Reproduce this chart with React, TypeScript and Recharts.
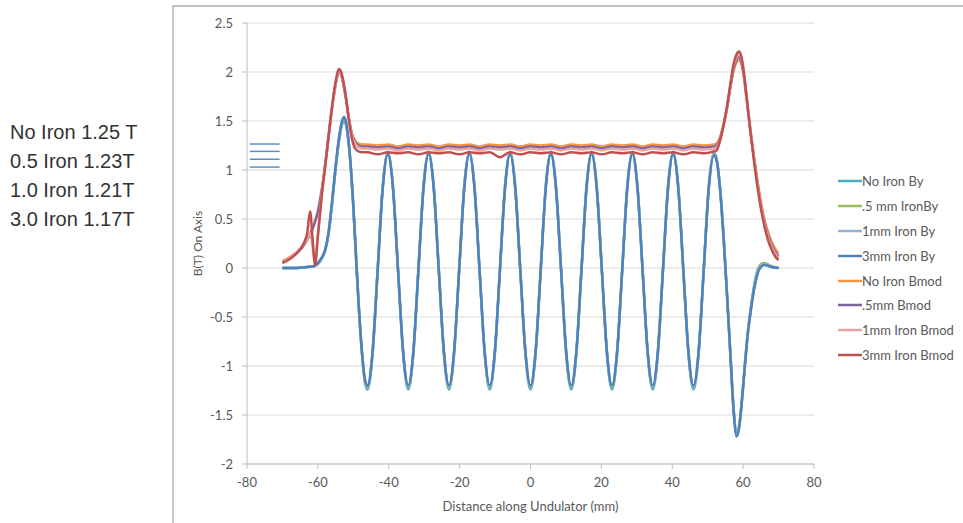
import { LineChart, Line, XAxis, YAxis, CartesianGrid, ReferenceLine } from "recharts";

// x positions (mm) for the By curves
const byX = [
  -70, -66, -63, -61, -60, -59, -58, -57, -56, -55, -54, -53.2, -52.6, -52, -51, -50, -49.2, -48.5, -47.5, -46.7,
  -46, -44.56, -43.13, -41.69, -40.25, -38.81, -37.38, -35.94,
  -34.5, -33.06, -31.63, -30.19, -28.75, -27.31, -25.88, -24.44,
  -23, -21.56, -20.13, -18.69, -17.25, -15.81, -14.38, -12.94,
  -11.5, -10.06, -8.63, -7.19, -5.75, -4.31, -2.88, -1.44,
  0, 1.44, 2.88, 4.31, 5.75, 7.19, 8.63, 10.06,
  11.5, 12.94, 14.38, 15.81, 17.25, 18.69, 20.13, 21.56,
  23, 24.44, 25.88, 27.31, 28.75, 30.19, 31.63, 33.06,
  34.5, 35.94, 37.38, 38.81, 40.25, 41.69, 43.13, 44.56,
  46, 47.44, 48.88, 50.31, 51.75,
  52.5, 53.5, 54.5, 55.5, 56.5, 57.3, 58.2, 59, 59.8, 60.5, 61.3, 62, 63, 64, 65, 66, 68, 70,
];

const noIronBy = [
  0, 0, 0.01, 0.02, 0.04, 0.09, 0.17, 0.34, 0.65, 1.0, 1.3, 1.46, 1.5, 1.45, 1.15, 0.62, 0.08, -0.38, -0.9, -1.17,
  -1.24, -0.88, -0.02, 0.84, 1.19, 0.84, -0.02, -0.88,
  -1.24, -0.88, -0.02, 0.84, 1.19, 0.84, -0.02, -0.88,
  -1.24, -0.88, -0.02, 0.84, 1.19, 0.84, -0.02, -0.88,
  -1.24, -0.88, -0.02, 0.84, 1.19, 0.84, -0.02, -0.88,
  -1.24, -0.88, -0.02, 0.84, 1.19, 0.84, -0.02, -0.88,
  -1.24, -0.88, -0.02, 0.84, 1.19, 0.84, -0.02, -0.88,
  -1.24, -0.88, -0.02, 0.84, 1.19, 0.84, -0.02, -0.88,
  -1.24, -0.88, -0.02, 0.84, 1.19, 0.84, -0.02, -0.88,
  -1.24, -0.88, -0.02, 0.84, 1.18,
  1.12, 0.82, 0.32, -0.3, -0.93, -1.42, -1.68, -1.57, -1.28, -0.98, -0.66, -0.45, -0.2, -0.03, 0.03, 0.04, 0.01, 0,
];

const halfIronBy = [
  0, 0, 0.01, 0.02, 0.05, 0.1, 0.18, 0.35, 0.66, 1.02, 1.32, 1.48, 1.52, 1.46, 1.16, 0.63, 0.09, -0.37, -0.89, -1.16,
  -1.22, -0.86, -0.02, 0.83, 1.18, 0.83, -0.02, -0.86,
  -1.22, -0.86, -0.02, 0.83, 1.18, 0.83, -0.02, -0.86,
  -1.22, -0.86, -0.02, 0.83, 1.18, 0.83, -0.02, -0.86,
  -1.22, -0.86, -0.02, 0.83, 1.18, 0.83, -0.02, -0.86,
  -1.22, -0.86, -0.02, 0.83, 1.18, 0.83, -0.02, -0.86,
  -1.22, -0.86, -0.02, 0.83, 1.18, 0.83, -0.02, -0.86,
  -1.22, -0.86, -0.02, 0.83, 1.18, 0.83, -0.02, -0.86,
  -1.22, -0.86, -0.02, 0.83, 1.18, 0.83, -0.02, -0.86,
  -1.22, -0.86, -0.02, 0.83, 1.17,
  1.11, 0.81, 0.31, -0.3, -0.94, -1.44, -1.7, -1.58, -1.29, -0.99, -0.67, -0.46, -0.22, -0.04, 0.04, 0.05, 0.02, 0,
];

const oneIronBy = [
  0, 0, 0.01, 0.02, 0.05, 0.1, 0.18, 0.36, 0.67, 1.03, 1.33, 1.49, 1.53, 1.47, 1.17, 0.64, 0.1, -0.36, -0.88, -1.15,
  -1.21, -0.85, -0.02, 0.82, 1.17, 0.82, -0.02, -0.85,
  -1.21, -0.85, -0.02, 0.82, 1.17, 0.82, -0.02, -0.85,
  -1.21, -0.85, -0.02, 0.82, 1.17, 0.82, -0.02, -0.85,
  -1.21, -0.85, -0.02, 0.82, 1.17, 0.82, -0.02, -0.85,
  -1.21, -0.85, -0.02, 0.82, 1.17, 0.82, -0.02, -0.85,
  -1.21, -0.85, -0.02, 0.82, 1.17, 0.82, -0.02, -0.85,
  -1.21, -0.85, -0.02, 0.82, 1.17, 0.82, -0.02, -0.85,
  -1.21, -0.85, -0.02, 0.82, 1.17, 0.82, -0.02, -0.85,
  -1.21, -0.85, -0.02, 0.82, 1.16,
  1.1, 0.8, 0.3, -0.3, -0.95, -1.45, -1.71, -1.59, -1.3, -1.0, -0.68, -0.47, -0.23, -0.06, 0.02, 0.04, 0.01, 0,
];

const threeIronBy = [
  0, 0, 0.01, 0.02, 0.05, 0.1, 0.18, 0.36, 0.68, 1.04, 1.34, 1.5, 1.54, 1.48, 1.17, 0.64, 0.1, -0.36, -0.88, -1.14,
  -1.2, -0.85, -0.02, 0.81, 1.16, 0.81, -0.02, -0.85,
  -1.2, -0.85, -0.02, 0.81, 1.16, 0.81, -0.02, -0.85,
  -1.2, -0.85, -0.02, 0.81, 1.16, 0.81, -0.02, -0.85,
  -1.2, -0.85, -0.02, 0.81, 1.16, 0.81, -0.02, -0.85,
  -1.2, -0.85, -0.02, 0.81, 1.16, 0.81, -0.02, -0.85,
  -1.2, -0.85, -0.02, 0.81, 1.16, 0.81, -0.02, -0.85,
  -1.2, -0.85, -0.02, 0.81, 1.16, 0.81, -0.02, -0.85,
  -1.2, -0.85, -0.02, 0.81, 1.16, 0.81, -0.02, -0.85,
  -1.2, -0.85, -0.02, 0.81, 1.15,
  1.1, 0.8, 0.3, -0.3, -0.95, -1.45, -1.72, -1.6, -1.3, -1.0, -0.68, -0.48, -0.24, -0.07, 0.01, 0.03, 0.01, 0,
];

// x positions (mm) for the Bmod curves
const bmX = [
  -70, -68, -66, -64, -63, -62.2, -61.5, -60.8, -60, -59, -58, -57, -56, -55, -54.5, -54, -53.5, -53, -52, -51.4, -50.5, -49.5, -48.5, -47.5,
  -46, -43.13, -40.25, -37.38, -34.5, -31.63, -28.75, -25.88, -23, -20.13, -17.25, -14.38, -11.5, -8.63, -5.75, -2.88,
  0, 2.88, 5.75, 8.63, 11.5, 14.38, 17.25, 20.13, 23, 25.88, 28.75, 31.63, 34.5, 37.38, 40.25, 43.13, 46, 48.88, 51.75,
  52.5, 53.5, 54.5, 55.5, 56.5, 57.3, 58, 58.8, 59.5, 60.2, 61, 62, 63, 64, 65, 66, 67, 68, 69, 70,
];

const noIronBmod = [
  0.07, 0.11, 0.16, 0.24, 0.3, 0.35, 0.41, 0.48, 0.58, 0.78, 1.04, 1.34, 1.64, 1.88, 1.96, 2.0, 1.98, 1.91, 1.71, 1.56, 1.39, 1.3, 1.27, 1.26,
  1.26, 1.25, 1.26, 1.24, 1.26, 1.25, 1.26, 1.24, 1.26, 1.25, 1.26, 1.24, 1.26, 1.25, 1.26, 1.24,
  1.26, 1.25, 1.26, 1.24, 1.26, 1.25, 1.26, 1.24, 1.26, 1.25, 1.26, 1.24, 1.26, 1.25, 1.26, 1.24, 1.26, 1.25, 1.26,
  1.27, 1.34, 1.47, 1.64, 1.86, 2.01, 2.09, 2.12, 2.08, 1.95, 1.72, 1.42, 1.15, 0.9, 0.68, 0.5, 0.37, 0.27, 0.2, 0.15,
];

const halfBmod = [
  0.06, 0.1, 0.15, 0.23, 0.29, 0.34, 0.4, 0.47, 0.57, 0.77, 1.03, 1.33, 1.63, 1.87, 1.96, 2.0, 1.98, 1.91, 1.71, 1.56, 1.38, 1.29, 1.25, 1.24,
  1.24, 1.23, 1.24, 1.22, 1.24, 1.23, 1.24, 1.22, 1.24, 1.23, 1.24, 1.22, 1.24, 1.23, 1.24, 1.22,
  1.24, 1.23, 1.24, 1.22, 1.24, 1.23, 1.24, 1.22, 1.24, 1.23, 1.24, 1.22, 1.24, 1.23, 1.24, 1.22, 1.24, 1.23, 1.24,
  1.25, 1.32, 1.46, 1.64, 1.87, 2.03, 2.11, 2.15, 2.11, 1.97, 1.73, 1.42, 1.14, 0.88, 0.65, 0.47, 0.34, 0.24, 0.17, 0.12,
];

const oneIronBmod = [
  0.06, 0.1, 0.16, 0.24, 0.3, 0.36, 0.22, 0.05, 0.35, 0.72, 1.02, 1.33, 1.63, 1.87, 1.97, 2.01, 1.99, 1.92, 1.72, 1.56, 1.37, 1.27, 1.23, 1.22,
  1.22, 1.21, 1.22, 1.2, 1.22, 1.21, 1.22, 1.2, 1.22, 1.21, 1.22, 1.2, 1.22, 1.21, 1.22, 1.2,
  1.22, 1.21, 1.22, 1.2, 1.22, 1.21, 1.22, 1.2, 1.22, 1.21, 1.22, 1.2, 1.22, 1.21, 1.22, 1.2, 1.22, 1.21, 1.22,
  1.23, 1.31, 1.46, 1.65, 1.89, 2.06, 2.14, 2.18, 2.14, 1.99, 1.74, 1.42, 1.13, 0.87, 0.64, 0.46, 0.32, 0.22, 0.15, 0.1,
];

const threeIronBmod = [
  0.05, 0.09, 0.15, 0.25, 0.36, 0.58, 0.3, 0.03, 0.32, 0.7, 1.02, 1.34, 1.65, 1.9, 1.99, 2.03, 2.01, 1.94, 1.72, 1.55, 1.34, 1.22, 1.19, 1.18,
  1.18, 1.16, 1.18, 1.17, 1.18, 1.16, 1.18, 1.17, 1.18, 1.16, 1.18, 1.17, 1.18, 1.13, 1.18, 1.16,
  1.18, 1.17, 1.18, 1.16, 1.18, 1.17, 1.18, 1.16, 1.18, 1.17, 1.18, 1.16, 1.18, 1.17, 1.18, 1.16, 1.18, 1.17, 1.19,
  1.2, 1.3, 1.46, 1.66, 1.9, 2.08, 2.17, 2.21, 2.16, 2.0, 1.74, 1.41, 1.11, 0.84, 0.61, 0.43, 0.29, 0.19, 0.12, 0.08,
];

// short marker lines drawn at the left of the plot
const markerLevels = [1.265, 1.19, 1.11, 1.03];
const markerSpan = [-79.2, -70.8];

const notes = ["No Iron 1.25 T", "0.5 Iron 1.23T", "1.0 Iron 1.21T", "3.0 Iron 1.17T"];

const xTicks = [-80, -60, -40, -20, 0, 20, 40, 60, 80];
const yTicks = [-2, -1.5, -1, -0.5, 0, 0.5, 1, 1.5, 2, 2.5];

const series = [
  { name: "No Iron By", xs: byX, ys: noIronBy, color: "#4BACC6" },
  { name: ".5 mm IronBy", xs: byX, ys: halfIronBy, color: "#9BBB59" },
  { name: "1mm Iron By", xs: byX, ys: oneIronBy, color: "#95B3D7" },
  { name: "3mm Iron By", xs: byX, ys: threeIronBy, color: "#4F81BD" },
  { name: "No Iron Bmod", xs: bmX, ys: noIronBmod, color: "#F79646" },
  { name: ".5mm Bmod", xs: bmX, ys: halfBmod, color: "#8064A2" },
  { name: "1mm Iron Bmod", xs: bmX, ys: oneIronBmod, color: "#E6A5A3" },
  { name: "3mm Iron Bmod", xs: bmX, ys: threeIronBmod, color: "#C0504D" },
];

const FONT = "Lato, 'Open Sans', sans-serif";
const AXIS_GREY = "#bfbfbf";
const TEXT_GREY = "#595959";

export default function App() {
  const lines = series.map(s => ({
    ...s,
    data: s.xs.map((x, i) => ({ x, y: s.ys[i] })),
  }));

  return (
    <div style={{ position: "relative", width: 963, height: 523, background: "#fff", fontFamily: FONT }}>
      <style>{"body{margin:0}"}</style>
      {/* frame of the slide image */}
      <div
        style={{
          position: "absolute",
          left: 172,
          top: 5,
          width: 963 - 172,
          height: 523 - 5,
          borderLeft: "2px solid #c8c8c8",
          borderTop: "2px solid #c0c0c0",
          boxSizing: "border-box",
        }}
      />
      <div
        style={{
          position: "absolute",
          left: 10,
          top: 118,
          fontFamily: "'Liberation Sans', Arial, sans-serif",
          fontSize: 20,
          lineHeight: "29px",
          color: "#333",
        }}
      >
        {notes.map(n => (
          <div key={n}>{n}</div>
        ))}
      </div>
      <div style={{ position: "absolute", left: 0, top: 0 }}>
        <LineChart width={963} height={523} margin={{ top: 23, right: 149, bottom: 7, left: 149 }}>
          <CartesianGrid horizontal vertical={false} stroke="#d9d9d9" strokeWidth={1.2} />
          <XAxis
            dataKey="x"
            type="number"
            domain={[-80, 80]}
            ticks={xTicks}
            height={52}
            stroke={AXIS_GREY}
            tickSize={5}
            tickMargin={9}
            tick={{ fill: TEXT_GREY, fontSize: 13, fontFamily: FONT }}
            label={{
              value: "Distance along Undulator (mm)",
              position: "insideBottom",
              offset: 5,
              fill: TEXT_GREY,
              fontSize: 13,
              fontFamily: FONT,
            }}
          />
          <YAxis
            type="number"
            domain={[-2, 2.5]}
            ticks={yTicks}
            width={98}
            stroke={AXIS_GREY}
            tickSize={5}
            tickMargin={9}
            tick={{ fill: TEXT_GREY, fontSize: 13, fontFamily: FONT }}
            label={{
              value: "B(T) On Axis",
              angle: -90,
              position: "center",
              fill: TEXT_GREY,
              fontSize: 12,
              fontFamily: FONT,
            }}
          />
          {markerLevels.map(v => (
            <ReferenceLine
              key={v}
              segment={[{ x: markerSpan[0], y: v }, { x: markerSpan[1], y: v }]}
              stroke="#5b8cc6"
              strokeWidth={1.5}
              ifOverflow="visible"
            />
          ))}
          {lines.map(s => (
            <Line
              key={s.name}
              name={s.name}
              data={s.data}
              dataKey="y"
              type="monotone"
              stroke={s.color}
              strokeWidth={2.5}
              dot={false}
              activeDot={false}
              isAnimationActive={false}
            />
          ))}
        </LineChart>
      </div>
      {/* legend */}
      <div style={{ position: "absolute", left: 838, top: 169 }}>
        {series.map(s => (
          <div key={s.name} style={{ display: "flex", alignItems: "center", height: 24.8 }}>
            <svg width={24} height={6} style={{ display: "block" }}>
              <line x1={0} y1={3} x2={24} y2={3} stroke={s.color} strokeWidth={2.5} />
            </svg>
            <span style={{ fontSize: 13, color: TEXT_GREY, whiteSpace: "nowrap" }}>{s.name}</span>
          </div>
        ))}
      </div>
    </div>
  );
}
